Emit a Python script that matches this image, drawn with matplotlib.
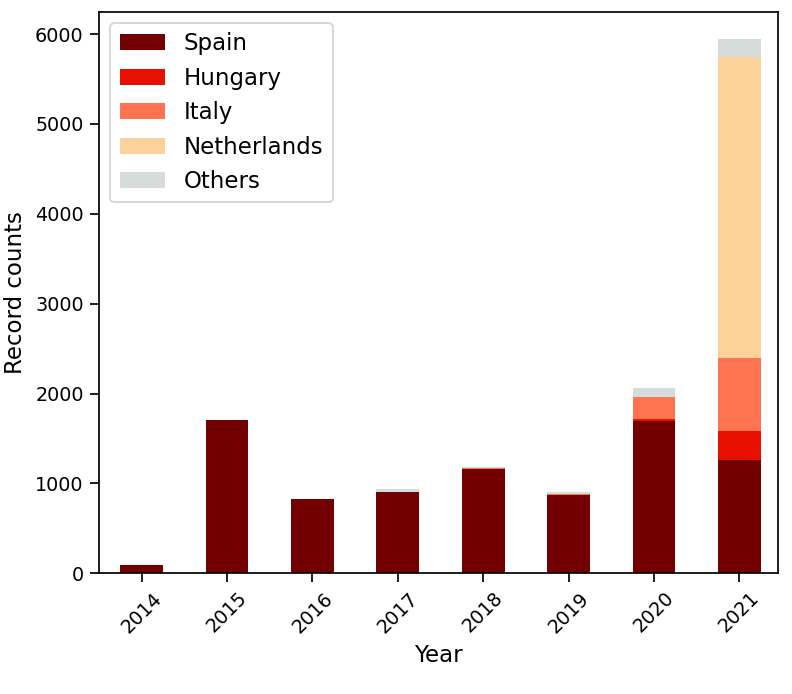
import matplotlib

matplotlib.use("Agg")
import matplotlib.pyplot as plt
import numpy as np

years = ["2014", "2015", "2016", "2017", "2018", "2019", "2020", "2021"]
countries = ["Spain", "Hungary", "Italy", "Netherlands", "Others"]
spain = [92, 1700, 825, 900, 1160, 875, 1690, 1265]
hungary = [0, 0, 0, 0, 0, 0, 25, 315]
italy = [0, 5, 0, 0, 15, 10, 250, 810]
netherlands = [0, 0, 0, 0, 0, 0, 0, 3360]
others = [0, 0, 0, 40, 5, 20, 100, 200]
colors = ["#730000", "#e60f00", "#ff7252", "#fdd29a", "#d6dcdc"]

series = [spain, hungary, italy, netherlands, others]

DPI = 137.5
fig, ax = plt.subplots(figsize=(792 / DPI, 694 / DPI), dpi=DPI)
x = np.arange(len(years))
bottom = np.zeros(len(years))
for name, vals, c in zip(countries, series, colors):
    ax.bar(x, vals, width=0.5, bottom=bottom, color=c, label=name)
    bottom += np.array(vals)

ax.set_xticks(x)
ax.set_xticklabels(years, rotation=45, fontsize=10)
ax.tick_params(axis="both", labelsize=10, length=4.5, width=0.9)
for sp in ax.spines.values():
    sp.set_linewidth(0.9)
ax.set_xlim(-0.5, 7.45)
ax.set_xlabel("Year", fontsize=12)
ax.set_ylabel("Record counts", fontsize=12)
ax.legend(loc="upper left", fontsize=12)
fig.subplots_adjust(left=0.125, right=0.982, top=0.983, bottom=0.174)
fig.savefig("out.png")
